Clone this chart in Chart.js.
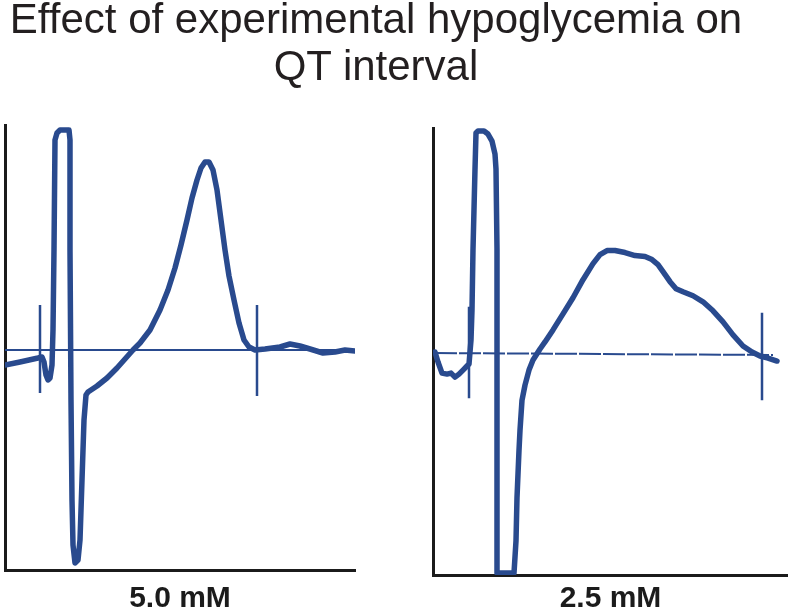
<!DOCTYPE html>
<html>
<head>
<meta charset="utf-8">
<title>Effect of experimental hypoglycemia on QT interval</title>
<script src="https://cdn.jsdelivr.net/npm/chart.js@4.4.1/dist/chart.umd.min.js"></script>
<style>
  body { margin: 0; background: #fff; }
  #wrap { position: relative; width: 788px; height: 615px; overflow: hidden; }
  #wrap canvas { position: absolute; left: 0; top: 0; }
  #title {
    position: absolute; left: 0; top: -5px; width: 752px;
    text-align: center; font-family: 'Liberation Sans', Arial, sans-serif;
    font-size: 42px; line-height: 47px; color: #231f20; white-space: nowrap;
  }
</style>
</head>
<body>
<div id="wrap">
  <canvas id="ecgLeft" width="788" height="615"></canvas>
  <canvas id="ecgRight" width="788" height="615"></canvas>
  <div id="title"></div>
</div>
<script>
const titleLines = ["Effect of experimental hypoglycemia on", "QT interval"];
const panelLabels = ["5.0 mM", "2.5 mM"];

// 5.0 mM glucose trace: time (ms from strip start), amplitude (baseline = 0)
const normoTime = [0,15,33,37,39,41,43,45,47,48, 49,50,52,55,64,65,65,66,67,68,
  70,73,75,77,79,81,83,92,102,112, 120,128,135,145,155,163,170,176,182,187,
  192,196,200,204,208,212,216,220,224,229, 234,239,244,250,260,275,285,295,305,318,
  330,340,350];
const normoAmp = [-0.15,-0.12,-0.08,-0.07,-0.12,-0.25,-0.30,-0.28,-0.15,0.2, 1.0,2.1,2.17,2.2,2.2,2.1,1.0,-0.5,-1.5,-1.95,
  -2.13,-2.1,-1.9,-1.3,-0.7,-0.45,-0.42,-0.36,-0.28,-0.18, -0.09,0,0.07,0.2,0.4,0.6,0.82,1.05,1.3,1.52,
  1.7,1.82,1.88,1.88,1.8,1.6,1.3,1.0,0.74,0.5, 0.27,0.1,0.03,0,0.01,0.03,0.06,0.04,0.01,-0.03,
  -0.02,0,-0.01];

// 2.5 mM glucose trace
const hypoTime = [2,5,9,14,18,22,26,30,34,36, 38,39,40,42,43,45,51,55,59,62,
  63,64,64,64,64,73,81,83,84,86, 87,89,92,96,100,107,112,120,130,140,
  150,160,167,174,182,192,202,212,219,225, 230,237,243,250,260,270,280,290,300,310,
  319,327,335,344];
const hypoAmp = [0.02,-0.08,-0.19,-0.20,-0.19,-0.23,-0.20,-0.16,-0.12,-0.10, 0.14,0.44,1.04,1.84,2.2,2.22,2.22,2.19,2.12,1.99,
  1.84,1.04,-0.46,-1.46,-2.18,-2.18,-2.18,-1.86,-1.43,-0.96, -0.76,-0.46,-0.31,-0.16,-0.06,0.05,0.12,0.24,0.40,0.56,
  0.74,0.90,0.99,1.03,1.03,1.01,0.98,0.97,0.94,0.89, 0.82,0.72,0.65,0.62,0.58,0.52,0.43,0.32,0.19,0.08,
  0.02,-0.02,-0.04,-0.07];

// QT markers (start of Q, end of T)
const normoMarkTime = [35, 252];
const normoMarkTop = [0.45, 0.45];
const normoMarkBottom = [-0.43, -0.46];
const hypoMarkTime = [36, 329];
const hypoMarkTop = [0.47, 0.41];
const hypoMarkBottom = [-0.44, -0.46];

// isoelectric baseline
const normoBaseTime = [0, 350];
const normoBaseAmp = [0, 0];
const hypoBaseTime = [2, 340];
const hypoBaseAmp = [0.01, -0.01];

const ink = "#294a8e";
const axisInk = "#1b1b1b";
const fontFamily = "'Liberation Sans', Arial, sans-serif";

document.getElementById("title").innerHTML = titleLines.join("<br>");

function toPoints(xs, ys) {
  return xs.map((x, i) => ({ x: x, y: ys[i] }));
}

function makeDatasets(time, amp, markTime, markTop, markBottom, baseTime, baseAmp, dash) {
  let sets = [];
  sets.push({
    data: toPoints(time, amp),
    borderColor: ink,
    borderWidth: 5.5,
    pointRadius: 0,
    tension: 0,
    borderJoinStyle: "round",
    borderCapStyle: "round",
  });
  for (let i = 0; i < markTime.length; i++) {
    sets.push({
      data: toPoints([markTime[i], markTime[i]], [markTop[i], markBottom[i]]),
      borderColor: ink,
      borderWidth: 2.5,
      pointRadius: 0,
    });
  }
  sets.push({
    data: toPoints(baseTime, baseAmp),
    borderColor: ink,
    borderWidth: 2,
    borderDash: dash,
    pointRadius: 0,
  });
  return sets;
}

function panelOptions(label, pad, xMax, labelPadTop) {
  return {
    responsive: false,
    animation: false,
    layout: { padding: pad },
    plugins: {
      legend: { display: false },
      tooltip: { enabled: false },
    },
    scales: {
      x: {
        type: "linear",
        min: 0,
        max: xMax,
        ticks: { display: false },
        grid: { display: false, drawTicks: false },
        border: { display: true, color: axisInk, width: 3 },
        title: {
          display: true,
          text: label,
          color: axisInk,
          font: { family: fontFamily, size: 30, weight: "bold", lineHeight: 1 },
          padding: { top: labelPadTop, bottom: 1 },
        },
      },
      y: {
        type: "linear",
        min: -2.2,
        max: 2.25,
        ticks: { display: false },
        grid: { display: false, drawTicks: false },
        border: { display: true, color: axisInk, width: 3 },
      },
    },
  };
}

new Chart(document.getElementById("ecgLeft").getContext("2d"), {
  type: "line",
  data: {
    datasets: makeDatasets(normoTime, normoAmp, normoMarkTime, normoMarkTop, normoMarkBottom,
      normoBaseTime, normoBaseAmp, []),
  },
  options: panelOptions(panelLabels[0], { left: 5, right: 433, top: 125, bottom: 0 }, 350, 14),
});

new Chart(document.getElementById("ecgRight").getContext("2d"), {
  type: "line",
  data: {
    datasets: makeDatasets(hypoTime, hypoAmp, hypoMarkTime, hypoMarkTop, hypoMarkBottom,
      hypoBaseTime, hypoBaseAmp, [22, 2]),
  },
  options: panelOptions(panelLabels[1], { left: 433, right: 0, top: 128, bottom: 0 }, 355, 9),
});
</script>
</body>
</html>
